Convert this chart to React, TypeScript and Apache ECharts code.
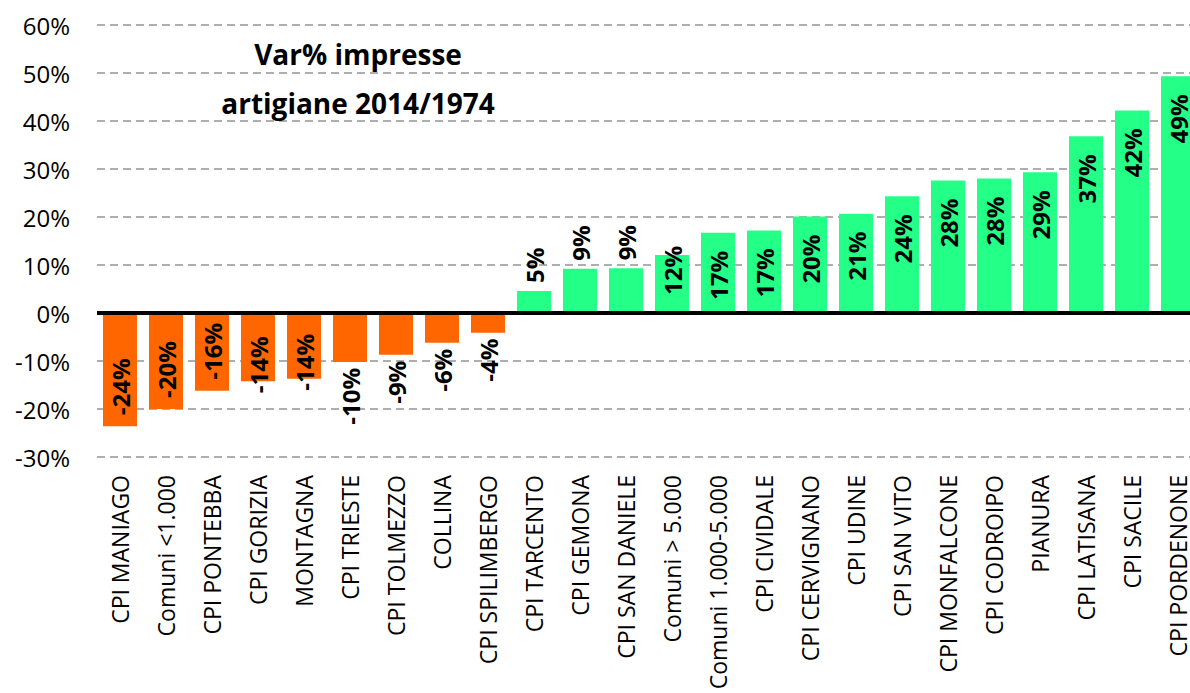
import React, { useEffect, useRef } from "react";
import * as echarts from "echarts";

const categories = [
  "CPI MANIAGO", "Comuni <1.000", "CPI PONTEBBA", "CPI GORIZIA", "MONTAGNA",
  "CPI TRIESTE", "CPI TOLMEZZO", "COLLINA", "CPI SPILIMBERGO", "CPI TARCENTO",
  "CPI GEMONA", "CPI SAN DANIELE", "Comuni > 5.000", "Comuni 1.000-5.000", "CPI CIVIDALE",
  "CPI CERVIGNANO", "CPI UDINE", "CPI SAN VITO", "CPI MONFALCONE", "CPI CODROIPO",
  "PIANURA", "CPI LATISANA", "CPI SACILE", "CPI PORDENONE",
];

const values = [
  -23.6, -20.0, -16.2, -14.2, -13.7,
  -10.2, -8.7, -6.2, -4.1, 4.6,
  9.2, 9.3, 12.1, 16.7, 17.2,
  20.1, 20.7, 24.3, 27.6, 28.0,
  29.3, 36.8, 42.2, 49.3,
];

const yTicks = { min: -30, max: 60, interval: 10 };
const titleText = "Var% impresse\nartigiane 2014/1974";

const FONT = "'Open Sans', 'Noto Sans', sans-serif";

function labelFor(v: number) {
  const base = {
    show: true,
    rotate: 90,
    verticalAlign: "middle",
    fontFamily: FONT,
    fontWeight: "bold",
    fontSize: 24,
    color: "#000",
    formatter: () => Math.round(v) + "%",
  };
  if (v >= 15) return { ...base, position: "insideTop", align: "right", distance: 18 };
  if (v >= 10) return { ...base, position: "top", align: "right", distance: 9 };
  if (v > 0) return { ...base, position: "top", align: "left", distance: 8 };
  if (v <= -15) return { ...base, position: "insideBottom", align: "left", distance: 11 };
  if (v <= -13) return { ...base, position: "bottom", align: "left", distance: 12 };
  return { ...base, position: "bottom", align: "right", distance: 6 };
}

export default function App() {
  const ref = useRef<HTMLDivElement>(null);
  useEffect(() => {
    if (!ref.current) return;
    const chart = echarts.init(ref.current, undefined, { renderer: "svg" });
    chart.setOption({
      animation: false,
      backgroundColor: "#fff",
      grid: { left: 97, right: 39, top: 25, bottom: 236, containLabel: false },
      graphic: [
        {
          type: "text",
          x: 358,
          y: 29,
          z: 10,
          style: {
            text: titleText,
            font: `bold 28px ${FONT}`,
            textAlign: "center",
            textVerticalAlign: "top",
            lineHeight: 49,
            fill: "#000",
          },
        },
      ],
      xAxis: {
        type: "category",
        data: categories,
        position: "bottom",
        axisLine: { show: false, onZero: false },
        axisTick: { show: false },
        axisLabel: {
          interval: 0,
          rotate: 90,
          margin: 18,
          fontFamily: FONT,
          fontSize: 23,
          color: "#000",
        },
      },
      yAxis: {
        type: "value",
        min: yTicks.min,
        max: yTicks.max,
        interval: yTicks.interval,
        axisLine: { show: false },
        axisTick: { show: false },
        axisLabel: {
          formatter: "{value}%",
          margin: 27,
          fontFamily: FONT,
          fontSize: 24,
          color: "#000",
        },
        splitLine: {
          show: true,
          lineStyle: { color: "#AEAEAE", width: 2, type: [8, 5] },
        },
      },
      series: [
        {
          type: "bar",
          barWidth: 34,
          data: values.map((v) => ({
            value: v,
            itemStyle: { color: v < 0 ? "#FF6600" : "#24FF88" },
            label: labelFor(v),
          })),
          markLine: {
            silent: true,
            symbol: ["none", "none"],
            label: { show: false },
            lineStyle: { color: "#000", width: 4, type: "solid" },
            data: [{ yAxis: 0 }],
          },
        },
      ],
    });
    return () => chart.dispose();
  }, []);
  return (
    <div
      style={{
        position: "fixed",
        left: 0,
        top: 0,
        width: 1190,
        height: 693,
        overflow: "hidden",
        background: "#fff",
      }}
    >
      <div ref={ref} style={{ width: 1240, height: 693 }} />
    </div>
  );
}
